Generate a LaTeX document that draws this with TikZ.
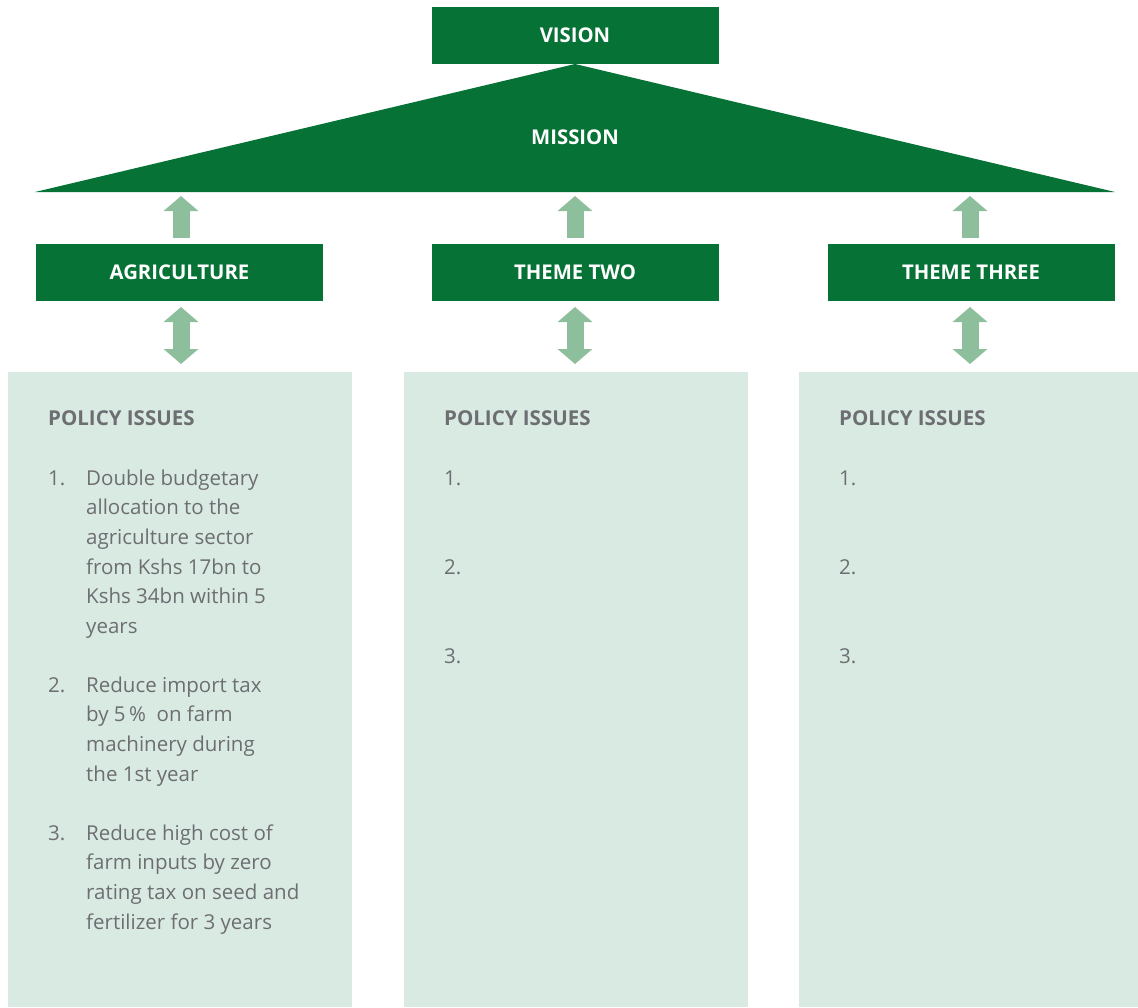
\documentclass[tikz,border=0pt]{standalone}
\usepackage{fontspec}
\setmainfont{Open Sans}
\usetikzlibrary{arrows.meta}
\definecolor{dgreen}{HTML}{077236}
\definecolor{agreen}{HTML}{8DBF9C}
\definecolor{lgreen}{HTML}{D9EAE3}
\definecolor{tgray}{HTML}{6D6E71}
\begin{document}
\begin{tikzpicture}[x=1pt,y=-1pt,
  head/.style={fill=dgreen, text=white, font=\bfseries\fontsize{20.3}{22}\selectfont, minimum width=287pt, minimum height=57pt, inner sep=0pt},
  panel/.style={fill=lgreen, inner sep=0pt, minimum height=635pt},
  uparr/.style={draw=agreen, line width=17pt, -{Triangle[width=34pt,length=15pt]}},
  dblarr/.style={draw=agreen, line width=17pt, {Triangle[width=34pt,length=15pt]}-{Triangle[width=34pt,length=15pt]}},
  ptitle/.style={text=tgray, font=\bfseries\fontsize{20.5}{22}\selectfont, anchor=base west, inner sep=0pt},
  num/.style={text=tgray, font=\fontsize{20.5}{29.7}\selectfont, anchor=base west, inner sep=0pt},
  item/.style={text=tgray, font=\fontsize{20.5}{29.7}\selectfont, align=left, anchor=north west, inner sep=0pt}]
\useasboundingbox (0,0) rectangle (1138,1007);
% vision and mission
\coordinate (mL) at (35,192);
\coordinate (mT) at (575,64);
\coordinate (mR) at (1115,192);
\fill[dgreen] (mL) -- (mT) -- (mR) -- cycle;
\node[head] (vision) at (575,35) {VISION};
\node[text=white, font=\bfseries\fontsize{20.3}{22}\selectfont, inner sep=0pt] (mission) at (575,137) {MISSION};
\coordinate (m1) at (181,192);
\coordinate (m2) at (575,192);
\coordinate (m3) at (970,192);
% themes
\node[head] (t1) at (179.5,272) {AGRICULTURE};
\node[head] (t2) at (575,272) {THEME TWO};
\node[head] (t3) at (971,272) {THEME THREE};
% panels
\node[panel, minimum width=344pt] (p1) at (180,689.5) {};
\node[panel, minimum width=344pt] (p2) at (576,689.5) {};
\node[panel, minimum width=339pt] (p3) at (968.5,689.5) {};
% arrows
\coordinate (t1n) at (181,238); \coordinate (t2n) at (575,238); \coordinate (t3n) at (970,238);
\coordinate (t1s) at (181,307); \coordinate (t2s) at (575,307); \coordinate (t3s) at (970,307);
\coordinate (p1n) at (181,364); \coordinate (p2n) at (575,364); \coordinate (p3n) at (970,364);
\draw[uparr] (t1n) -- ([yshift=-4pt]m1);
\draw[uparr] (t2n) -- ([yshift=-4pt]m2);
\draw[uparr] (t3n) -- ([yshift=-4pt]m3);
\draw[dblarr] (t1s) -- (p1n);
\draw[dblarr] (t2s) -- (p2n);
\draw[dblarr] (t3s) -- (p3n);
% panel 1 text
\node[ptitle] (pt1) at (48,425) {POLICY ISSUES};
\node[num] (n11) at (48,485) {1.};
\node[item] (i11) at (86,469.4) {Double budgetary\\allocation to the\\agriculture sector\\from Kshs 17bn to\\Kshs 34bn within 5\\years};
\node[num] (n12) at (48,692) {2.};
\node[item] (i12) at (86,676.4) {Reduce import tax\\by 5\,\%\ \ on farm\\machinery during\\the 1st year};
\node[num] (n13) at (48,840) {3.};
\node[item] (i13) at (86,824.4) {Reduce high cost of\\farm inputs by zero\\rating tax on seed and\\fertilizer for 3 years};
% panel 2 text
\node[ptitle] (pt2) at (444,425) {POLICY ISSUES};
\node[num] (n21) at (444,485) {1.};
\node[num] (n22) at (444,574) {2.};
\node[num] (n23) at (444,663) {3.};
% panel 3 text
\node[ptitle] (pt3) at (839,425) {POLICY ISSUES};
\node[num] (n31) at (839,485) {1.};
\node[num] (n32) at (839,574) {2.};
\node[num] (n33) at (839,663) {3.};
\end{tikzpicture}
\end{document}
